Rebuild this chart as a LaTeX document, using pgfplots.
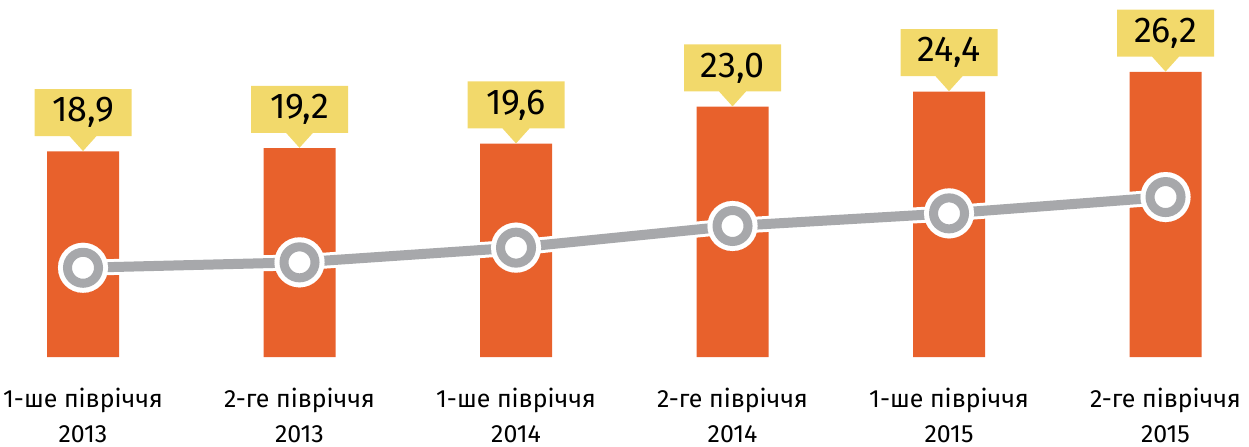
\documentclass[border=0pt]{standalone}
\usepackage{pgfplots}
\pgfplotsset{compat=1.18}
\usepackage{fontspec}
\setmainfont{Fira Sans}
\usetikzlibrary{shapes.callouts}
\definecolor{barorange}{HTML}{E8612C}
\definecolor{lblyellow}{HTML}{F2D96B}
\definecolor{linegray}{HTML}{A7A8AB}
\begin{document}
\begin{tikzpicture}
\begin{axis}[
  scale only axis,
  width=1249bp, height=357bp,
  xmin=-0.3834, xmax=5.3857,
  ymin=0, ymax=32.81,
  axis line style={draw=none},
  clip=false,
  xtick={0,1,2,3,4,5},
  xticklabels={{1-ше півріччя\\2013},{2-ге півріччя\\2013},{1-ше півріччя\\2014},{2-ге півріччя\\2014},{1-ше півріччя\\2015},{2-ге півріччя\\2015}},
  xticklabel style={align=center, font=\fontsize{25}{35}\selectfont, text=black, yshift=-28bp},
  major tick length=0pt,
  ytick=\empty,
  /pgf/number format/use comma,
  /pgf/number format/fixed,
  /pgf/number format/fixed zerofill,
  /pgf/number format/precision=1,
  /pgf/number format/assume math mode=true,
]
\addplot[ybar, bar width=72bp, fill=barorange, draw=none,
  nodes near coords, point meta=y,
  every node near coord/.append style={
    shape=rectangle callout, fill=lblyellow, draw=none,
    minimum width=97bp, minimum height=47bp, inner sep=0pt,
    callout relative pointer={(canvas cs:x=0bp,y=-15bp)}, callout pointer width=27bp,
    anchor=pointer, font=\fontsize{36}{36}\selectfont, text=black,
  },
] coordinates {(0,18.9) (1,19.2) (2,19.6) (3,23.0) (4,24.4) (5,26.2)};
\addplot[white, line width=16bp, mark=*, mark size=25bp, mark options={fill=white, line width=0.1bp}]
  coordinates {(0,8.2) (1,8.7) (2,10.05) (3,12.04) (4,13.2) (5,14.7)};
\addplot[linegray, line width=10bp, mark=*, mark size=15.5bp, mark options={fill=white, draw=linegray, line width=9bp}]
  coordinates {(0,8.2) (1,8.7) (2,10.05) (3,12.04) (4,13.2) (5,14.7)};
\end{axis}
\pgfresetboundingbox
\path (0,-90bp) rectangle (1249bp,357bp);
\end{tikzpicture}
\end{document}
